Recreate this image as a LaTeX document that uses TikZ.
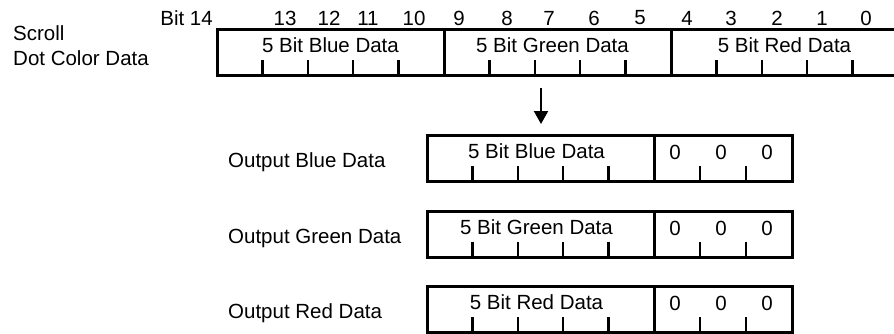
\documentclass[tikz,border=0pt]{standalone}
\usepackage{fontspec}
\setmainfont{Liberation Sans}
\usetikzlibrary{arrows.meta,positioning,calc}

\tikzset{
  field/.style={draw, line width=3pt, inner sep=0pt, outer sep=0pt,
    minimum height=46pt, anchor=north west},
  bittick/.style={line width=2.4pt},
  bitnum/.style={inner sep=0pt, anchor=center},
}

\begin{document}
\begin{tikzpicture}[x=1pt, y=-1pt, font=\fontsize{20.5pt}{24pt}\selectfont]
  \useasboundingbox[fill=white] (0,0) rectangle (894,333);
  % source register, bits 14..0
  \node[field, minimum width=227pt] (srcblue) at (217,29) {};
  \node[field, minimum width=227pt] (srcgreen) at (444,29) {};
  \node[field, minimum width=227pt] (srcred) at (671,29) {};
  \foreach \f in {srcblue,srcgreen,srcred}
    \foreach \i in {1,...,4}
      \draw[bittick] ($(\f.south west)!\i/5!(\f.south east)$) -- ++(0,-15);
  \node[bitnum] at ([yshift=-16pt]srcblue.north) {5 Bit Blue Data};
  \node[bitnum] at ([xshift=-5pt,yshift=-16pt]srcgreen.north) {5 Bit Green Data};
  \node[bitnum] at ([yshift=-16pt]srcred.north) {5 Bit Red Data};
  \node[bitnum, anchor=east] (bit14) at (213,18) {Bit 14};
  \foreach \b/\x in {13/285,12/329,11/368,10/414,9/459,8/507,7/549,
                     6/594,5/640,4/687,3/731,2/777,1/822,0/866}
    \node[bitnum] (bit\b) at (\x,18) {\b};
  \node[bitnum, anchor=west] (scroll) at (13,33) {Scroll};
  \node[bitnum, anchor=west] (dotcolor) at (13,58) {Dot Color Data};

  % output registers
  \foreach \clr/\ypos/\key in {Blue/135/blue, Green/211/green, Red/286/red} {
    \node[field, minimum width=227pt] (out\key) at (427,\ypos) {};
    \node[field, minimum width=138pt] (zero\key) at (654,\ypos) {};
    \foreach \i in {1,...,4}
      \draw[bittick] ($(out\key.south west)!\i/5!(out\key.south east)$) -- ++(0,-15);
    \foreach \i in {1,2}
      \draw[bittick] ($(zero\key.south west)!\i/3!(zero\key.south east)$) -- ++(0,-15);
    \node[bitnum] at ([xshift=-4pt,yshift=-16pt]out\key.north) {5 Bit \clr{} Data};
    \foreach \i in {0,1,2}
      \node[bitnum] at ($(zero\key.north west)+(21+46*\i,17)$) {0};
    \node[bitnum, anchor=west] (lbl\key) at (228,\ypos+27) {Output \clr{} Data};
  }

  % arrow into blue output
  \coordinate (arrowtop) at (541,88);
  \draw[line width=2.2pt, -{Triangle[width=14pt,length=13pt]}]
    (arrowtop) -- (arrowtop |- outblue.north) [shorten >=11pt];
\end{tikzpicture}
\end{document}
